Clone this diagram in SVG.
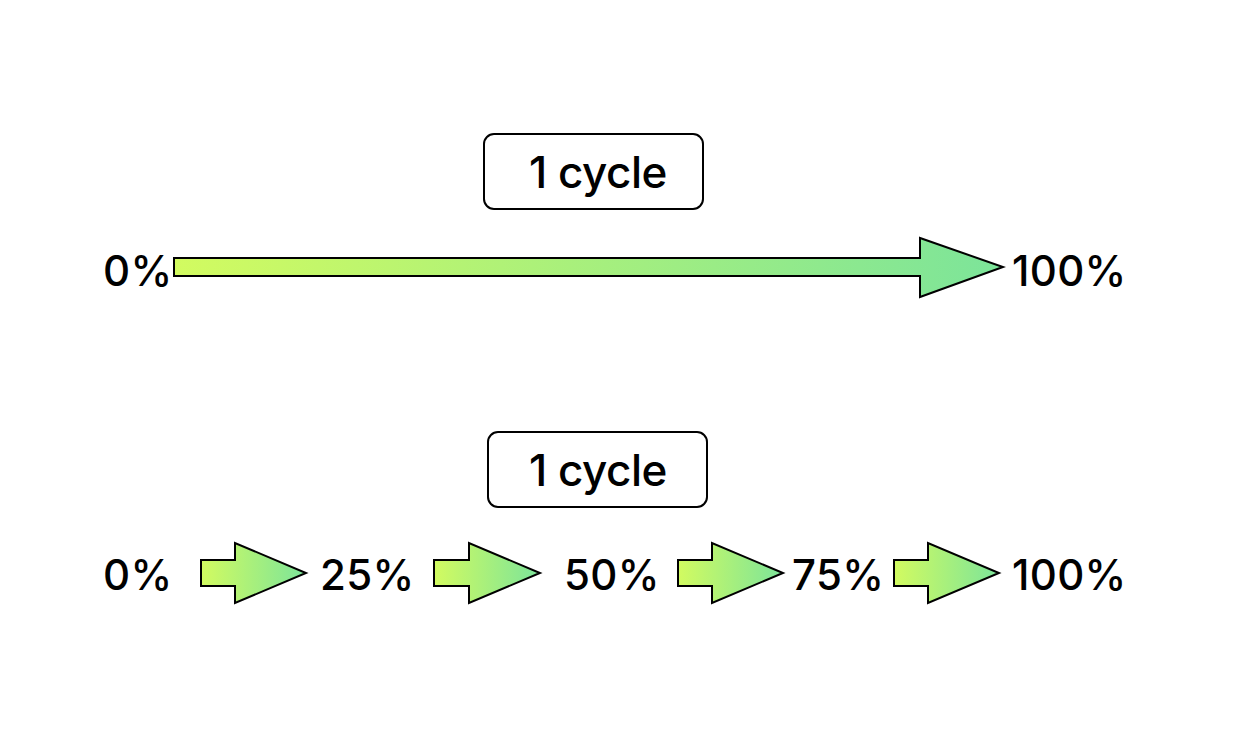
<svg xmlns="http://www.w3.org/2000/svg" width="1239" height="734" viewBox="0 0 1239 734">
<defs>
<linearGradient id="g" x1="0" y1="0" x2="1" y2="0"><stop offset="0" stop-color="#d2fb60"/><stop offset="1" stop-color="#7ce49a"/></linearGradient>
<style>
.t{font-family:Inter,"Liberation Sans",sans-serif;font-size:42px;font-weight:500;fill:#000;letter-spacing:0.3px}
.c{font-size:44px;letter-spacing:-0.5px}
.b{fill:#fff;stroke:#000;stroke-width:2}
.a{fill:url(#g);stroke:#000;stroke-width:2;stroke-linejoin:miter}
</style>
</defs>
<rect width="1239" height="734" fill="#fff"/>
<g id="box1"><rect class="b" x="484" y="134" width="219" height="75" rx="10"/><text class="t c" x="598" y="188" text-anchor="middle">1 cycle</text></g>
<g id="box2"><rect class="b" x="488" y="432" width="219" height="75" rx="10"/><text class="t c" x="598" y="486" text-anchor="middle">1 cycle</text></g>
<g id="labels">
<text class="t" x="103" y="286">0%</text>
<text class="t" x="1012" y="286">100%</text>
<text class="t" x="103" y="590">0%</text>
<text class="t" x="320" y="590">25%</text>
<text class="t" x="564" y="590">50%</text>
<text class="t" x="792" y="590">75%</text>
<text class="t" x="1012" y="590">100%</text>
</g>
<g id="connectors">
<path class="a" d="M174 258H920V238L1003 267L920 297V276H174Z"/>
<path class="a" d="M201 560H235V543L306 573L235 603V586H201Z"/>
<path class="a" d="M434 560H469V543L540 573L469 603V586H434Z"/>
<path class="a" d="M678 560H712V543L783 573L712 603V586H678Z"/>
<path class="a" d="M894 560H928V543L999 573L928 603V586H894Z"/>
</g>
</svg>
